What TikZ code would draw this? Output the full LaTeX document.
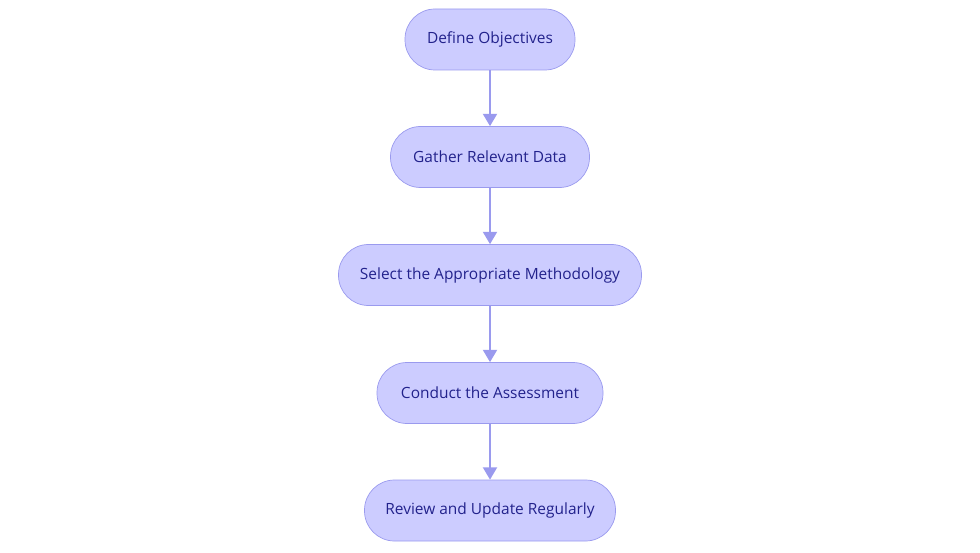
\documentclass[tikz,border=0pt]{standalone}
\usepackage{fontspec}
\setmainfont{Open Sans}
\usetikzlibrary{arrows.meta,positioning}
\definecolor{boxfill}{HTML}{CCCCFF}
\definecolor{boxline}{HTML}{9A9AEE}
\definecolor{boxtext}{HTML}{22228C}
\tikzset{
  stage/.style={draw=boxline,fill=boxfill,text=boxtext,rounded corners=0.6cm,
    minimum height=1.22cm,font=\fontsize{8.8}{10}\selectfont,inner sep=0pt},
  link/.style={draw=boxline,line width=1pt,-{Triangle[length=7pt,width=8pt]}}
}
\begin{document}
\begin{tikzpicture}
		\useasboundingbox (0,0) rectangle (19.6,-11.06);
		\node[stage,minimum width=3.4cm] (obj) at (9.8,-0.79) {Define Objectives};
		\node[stage,minimum width=3.98cm] (data) at (9.8,-3.14) {Gather Relevant Data};
		\node[stage,minimum width=6.06cm] (meth) at (9.8,-5.5) {Select the Appropriate Methodology};
		\node[stage,minimum width=4.52cm] (cond) at (9.8,-7.86) {Conduct the Assessment};
		\node[stage,minimum width=5.02cm] (rev) at (9.8,-10.21) {Review and Update Regularly};
		
		\draw[link] (obj) -- (data);
		\draw[link] (data) -- (meth);
		\draw[link] (meth) -- (cond);
		\draw[link] (cond) -- (rev);
\end{tikzpicture}
\end{document}
